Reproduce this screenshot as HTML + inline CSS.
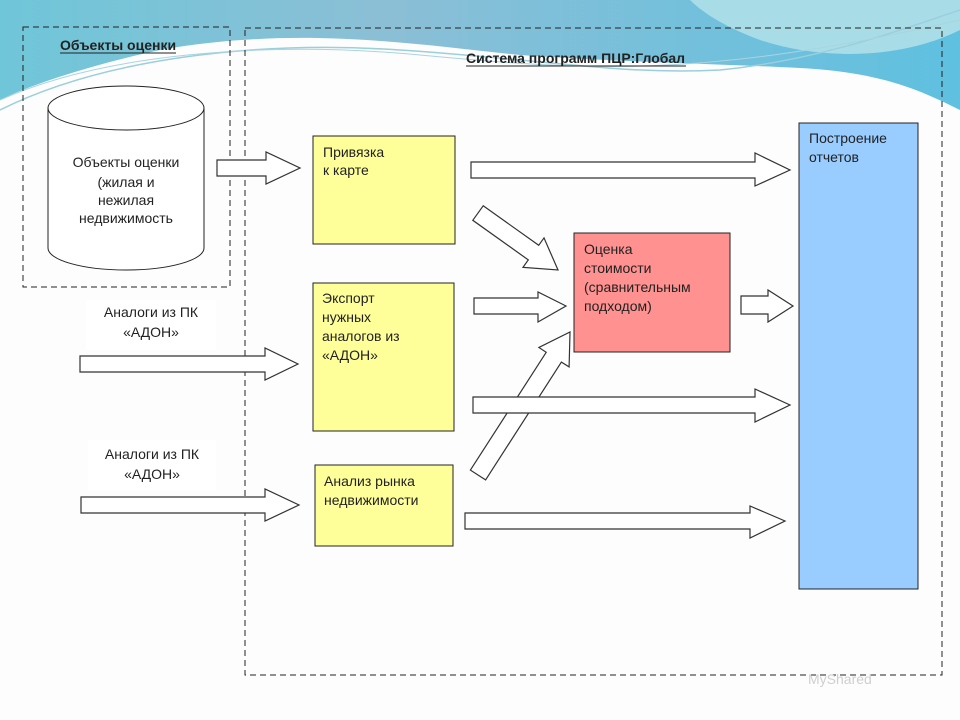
<!DOCTYPE html>
<html><head><meta charset="utf-8"><style>
body{margin:0;width:960px;height:720px;overflow:hidden;background:#fff}
svg{display:block}
text{font-family:"Liberation Sans",sans-serif;font-size:14px;fill:#222}
</style></head><body>
<svg width="960" height="720" viewBox="0 0 960 720">
<defs>
<linearGradient id="bg" x1="0" y1="0" x2="1" y2="0">
<stop offset="0" stop-color="#6fc6d8"/><stop offset="0.4" stop-color="#8bbfd6"/><stop offset="1" stop-color="#5fc0e0"/>
</linearGradient>
</defs>
<rect width="960" height="720" fill="#fdfdfd"/>
<path d="M0 0H960V110C920 90 880 72 800 68C720 64 620 62 520 55C420 45 300 25 160 50C90 65 30 85 0 100Z" fill="url(#bg)"/>
<path d="M240 0H960V30C900 60 820 60 760 40C720 25 700 10 690 0Z" fill="#a8dde8"/>
<path d="M0 110C100 60 250 40 400 50C550 60 620 75 720 70C820 60 900 30 960 10" fill="none" stroke="#9bcfdc" stroke-width="1.5"/>
<path d="M0 100C100 55 260 40 420 55C580 70 700 80 960 20" fill="none" stroke="#a9d4df" stroke-width="1"/>

<rect x="23" y="27" width="207" height="260" fill="none" stroke="#222" stroke-dasharray="6,4"/>
<rect x="245" y="28" width="697" height="647" fill="none" stroke="#222" stroke-dasharray="6,4"/>
<text x="60" y="50" font-weight="bold" font-size="13">Объекты оценки</text>
<line x1="60" y1="53" x2="176" y2="53" stroke="#222"/>
<text x="466" y="63" font-weight="bold" font-size="13">Система программ ПЦР:Глобал</text>
<line x1="466" y1="66" x2="686" y2="66" stroke="#222"/>

<path d="M48 108V248A78 22 0 0 0 204 248V108" fill="#fff" stroke="#222"/>
<ellipse cx="126" cy="108" rx="78" ry="22" fill="#fff" stroke="#222"/>
<text text-anchor="middle" font-size="14"><tspan x="126" y="167">Объекты оценки</tspan><tspan x="126" y="187">(жилая  и</tspan><tspan x="126" y="205">нежилая</tspan><tspan x="126" y="223">недвижимость</tspan></text>

<rect x="313" y="136" width="142" height="108" fill="#ffff99" stroke="#222"/>
<text font-size="14"><tspan x="323" y="157">Привязка</tspan><tspan x="323" y="175">к карте</tspan></text>
<rect x="313" y="283" width="141" height="148" fill="#ffff99" stroke="#222"/>
<text font-size="14"><tspan x="322" y="303">Экспорт</tspan><tspan x="322" y="322">нужных</tspan><tspan x="322" y="341">аналогов из</tspan><tspan x="322" y="360">«АДОН»</tspan></text>
<rect x="315" y="465" width="138" height="81" fill="#ffff99" stroke="#222"/>
<text font-size="14"><tspan x="324" y="486">Анализ рынка</tspan><tspan x="324" y="505">недвижимости</tspan></text>
<rect x="574" y="233" width="156" height="119" fill="#ff9190" stroke="#222"/>
<text font-size="14"><tspan x="584" y="254">Оценка</tspan><tspan x="584" y="273">стоимости</tspan><tspan x="584" y="292">(сравнительным</tspan><tspan x="584" y="311">подходом)</tspan></text>
<rect x="799" y="123" width="119" height="466" fill="#99ccff" stroke="#222"/>
<text font-size="14"><tspan x="809" y="143">Построение</tspan><tspan x="809" y="162">отчетов</tspan></text>

<rect x="86" y="300" width="130" height="50" fill="#fff"/>
<text text-anchor="middle" font-size="14"><tspan x="151" y="317">Аналоги из ПК</tspan><tspan x="151" y="337">«АДОН»</tspan></text>
<rect x="88" y="440" width="128" height="50" fill="#fff"/>
<text text-anchor="middle" font-size="14"><tspan x="152" y="459">Аналоги из ПК</tspan><tspan x="152" y="479">«АДОН»</tspan></text>

<g fill="#fff" stroke="#333" stroke-width="1.2">
<polygon points="217,160 266,160 266,152 300,168 266,184 266,176 217,176"/>
<polygon points="471,162 755,162 755,153 790,170 755,186 755,178 471,178"/>
<polygon points="483.2,205.8 538.7,245.3 544,237.9 558,270 523,267.3 528.3,259.9 472.8,220.3"/>
<polygon points="474,298 538,298 538,292 566,306 538,322 538,314 474,314"/>
<polygon points="485.6,479.9 561.4,362.1 569.1,366.9 570,332 538.9,347.5 546.2,352.3 470.4,470.1"/>
<polygon points="473,397 755,397 755,389 790,405 755,422 755,413 473,413"/>
<polygon points="465,513 750,513 750,506 785,521 750,538 750,529 465,529"/>
<polygon points="741,296 768,296 768,290 793,306 768,322 768,314 741,314"/>
<polygon points="80,356 265,356 265,348 298,364 265,380 265,372 80,372"/>
<polygon points="81,497 265,497 265,489 299,505 265,521 265,513 81,513"/>
</g>
<text x="808" y="684" font-size="28" style="fill:#cfcfcf">MyShared</text>
</svg>
</body></html>
